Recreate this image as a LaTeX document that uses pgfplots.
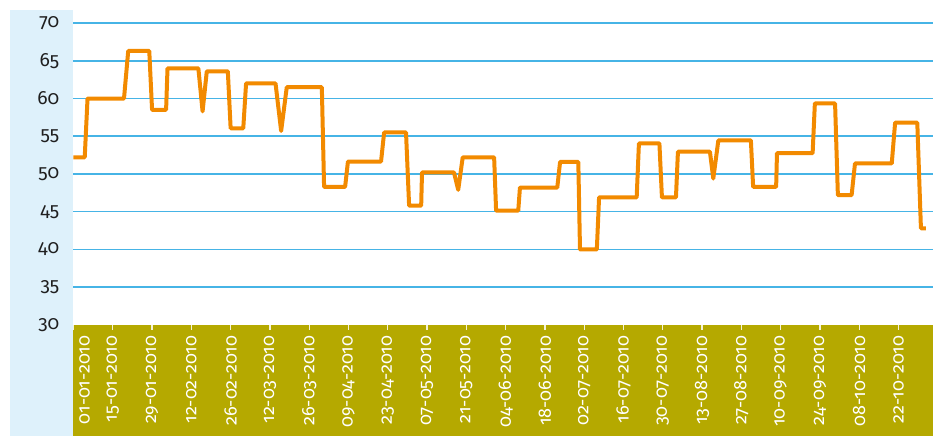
\documentclass[border=0pt]{standalone}
\usepackage{pgfplots}
\pgfplotsset{compat=1.18}
\usepackage{fontspec}
\setmainfont{Fira Sans}[Numbers=OldStyle]
\definecolor{panel}{RGB}{222,241,251}
\definecolor{olive}{RGB}{181,169,0}
\definecolor{gridblue}{RGB}{70,180,230}
\definecolor{lineorange}{RGB}{242,138,0}
\begin{document}
\begin{tikzpicture}
\path[use as bounding box] (-44.1pt,-66.6pt) rectangle (515.7pt,195pt);
\fill[panel] (-38.1pt,-66.6pt) rectangle (0pt,189pt);
\fill[olive] (0pt,-66.6pt) rectangle (515.7pt,0pt);
\begin{axis}[
  at={(0pt,0pt)}, anchor=south west,
  scale only axis, width=515.7pt, height=181.2pt,
  xmin=0, xmax=306.3, ymin=30, ymax=70,
  axis line style={draw=none},
  /pgf/number format/assume math mode=true,
  ytick={35,40,...,70},
  extra y ticks={30}, extra y tick style={grid=none},
  ymajorgrids, grid style={gridblue, line width=0.9pt},
  ytick pos=left, y tick style={draw=none},
  yticklabel style={font=\fontsize{11.5}{13}\selectfont, text=black!88, xshift=-2pt},
  xtick={14,28,...,294},
  xticklabels={15-01-2010,29-01-2010,12-02-2010,26-02-2010,12-03-2010,26-03-2010,09-04-2010,23-04-2010,07-05-2010,21-05-2010,04-06-2010,18-06-2010,02-07-2010,16-07-2010,30-07-2010,13-08-2010,27-08-2010,10-09-2010,24-09-2010,08-10-2010,22-10-2010},
  extra x ticks={0}, extra x tick labels={01-01-2010},
  extra x tick style={xticklabel style={anchor=north east}},
  xtick pos=bottom, tick align=outside, major tick length=3pt,
  x tick style={white!85!olive, line width=0.7pt},
  xticklabel style={rotate=90, anchor=east, text=white, font=\fontsize{10.8}{12}\selectfont, yshift=0pt},
]
\addplot[lineorange, line width=2.4pt, line join=round, mark=none] coordinates {
(0,52.2)(4,52.2)(5,60.0)(18,60.0)(19.5,66.3)(27,66.3)(28,58.5)(33,58.5)(33.5,64.0)(44.5,64.0)(46,58.3)(47.5,63.6)(55,63.6)(56,56.05)(60.5,56.05)(61.5,62.0)(72,62.0)(74,55.7)(76,61.5)(88.5,61.5)(89.3,48.3)(96.8,48.3)(97.8,51.65)(109.6,51.65)(110.7,55.5)(118.5,55.5)(119.6,45.8)(123.9,45.8)(124.2,50.2)(135.6,50.2)(137.1,47.9)(138.7,52.2)(149.9,52.2)(150.6,45.15)(158.5,45.15)(159.1,48.2)(172.4,48.2)(173.4,51.6)(179.9,51.6)(180.5,40.0)(186.5,40.0)(187.3,46.9)(200.7,46.9)(201.5,54.05)(208.8,54.05)(209.7,46.9)(214.7,46.9)(215.4,52.95)(226.8,52.95)(228,49.4)(229.8,54.45)(241.4,54.45)(242.2,48.3)(250.4,48.3)(250.7,52.75)(263.4,52.75)(264.2,59.35)(271.4,59.35)(272.4,47.2)(277.3,47.2)(278.5,51.4)(291.6,51.4)(292.8,56.8)(300.7,56.8)(302,42.8)(303.8,42.8)
};
\end{axis}
\end{tikzpicture}
\end{document}
